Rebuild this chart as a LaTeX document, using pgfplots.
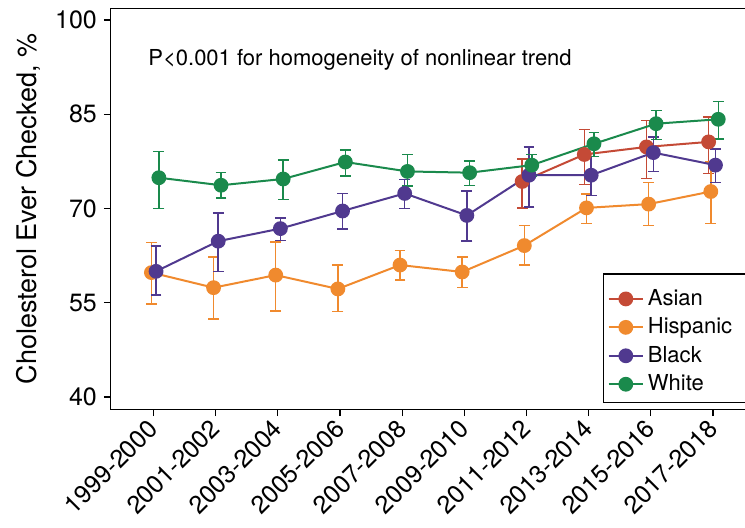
\documentclass[border=0pt]{standalone}
\usepackage{fontspec}
\setmainfont{TeX Gyre Heros}
\usepackage{pgfplots}
\pgfplotsset{compat=1.18}
\usepackage{pgfplotstable}
\definecolor{cAsian}{HTML}{C44A36}
\definecolor{cHisp}{HTML}{F08A2E}
\definecolor{cBlack}{HTML}{50398F}
\definecolor{cWhite}{HTML}{1A8A4C}
\pgfplotstableread{
x y lo hi
5.93 74.3 70.1 77.9
6.93 78.6 73.8 82.6
7.93 79.8 74.8 84.0
8.93 80.6 75.6 84.6
}\tasian
\pgfplotstableread{
x y lo hi
-0.035 59.8 54.8 64.6
0.965 57.4 52.4 62.3
1.965 59.4 53.7 64.7
2.965 57.2 53.6 61.0
3.965 61.0 58.6 63.3
4.965 59.9 57.4 62.3
5.965 64.1 61.0 67.3
6.965 70.1 67.6 72.3
7.965 70.7 67.3 74.1
8.965 72.7 67.6 77.4
}\thisp
\pgfplotstableread{
x y lo hi
0.04 60.0 56.2 64.0
1.04 64.8 60.0 69.3
2.04 66.8 64.9 68.5
3.04 69.6 66.7 72.4
4.04 72.4 70.0 74.6
5.04 68.9 64.8 72.8
6.04 75.3 70.2 79.8
7.04 75.3 72.1 78.3
8.04 78.9 75.9 81.4
9.04 76.9 74.1 79.5
}\tblack
\pgfplotstableread{
x y lo hi
0.085 74.9 70.0 79.1
1.085 73.7 71.7 75.7
2.085 74.7 71.4 77.7
3.085 77.4 75.2 79.3
4.085 75.9 73.6 78.6
5.085 75.7 73.7 77.6
6.085 76.9 75.2 78.6
7.085 80.3 78.3 82.1
8.085 83.5 81.0 85.6
9.085 84.2 81.1 87.0
}\twhite
\begin{document}
\begin{tikzpicture}
\path[use as bounding box] (-55.35pt,-58.85pt) rectangle (317.15pt,204.65pt);
\begin{axis}[
  at={(0,0)}, anchor=south west,
  scale only axis, width=344.65pt, height=200.4pt,
  xmin=-0.69, xmax=10.4, ymin=38.04, ymax=101.83,
  xtick={0,1,2,3,4,5,6,7,8,9},
  xticklabels={1999-2000,2001-2002,2003-2004,2005-2006,2007-2008,2009-2010,2011-2012,2013-2014,2015-2016,2017-2018},
  ytick={40,55,70,85,100},
  xtick pos=left, ytick pos=left,
  tick align=outside, major tick length=3.4pt,
  tick style={line width=0.6pt, black},
  axis line style={line width=0.6pt},
  /pgf/number format/assume math mode=true,
  ticklabel style={font=\fontsize{12.5}{14}\selectfont},
  xticklabel style={rotate=45, anchor=east, inner sep=0pt},
  xticklabel shift=4pt,
  ylabel={Cholesterol Ever Checked, \%},
  ylabel style={at={(axis description cs:-0.1074,0.5)}, anchor=base, rotate=0, inner sep=0pt, font=\fontsize{13.5}{15}\selectfont},
  legend cell align=left,
  legend style={at={(axis cs:7.22,58.62)}, anchor=north west, draw=none, fill=none,
    font=\fontsize{11}{14.15}\selectfont, row sep=0.7pt, inner sep=2.5pt,
    /tikz/every even column/.append style={column sep=0pt}},
  every axis plot/.append style={line width=1pt, mark=*, mark size=3.2pt,
    error bars/y dir=both, error bars/y explicit,
    error bars/error bar style={line width=0.75pt},
    error bars/error mark options={rotate=90, mark size=2.7pt, line width=0.75pt}},
  clip=false,
]
\addplot[color=cAsian, mark options={fill=cAsian, draw=cAsian}] table[x=x, y=y, y error plus expr=\thisrow{hi}-\thisrow{y}, y error minus expr=\thisrow{y}-\thisrow{lo}] {\tasian};
\addlegendentry{Asian}
\addplot[color=cHisp, mark options={fill=cHisp, draw=cHisp}] table[x=x, y=y, y error plus expr=\thisrow{hi}-\thisrow{y}, y error minus expr=\thisrow{y}-\thisrow{lo}] {\thisp};
\addlegendentry{Hispanic}
\addplot[color=cBlack, mark options={fill=cBlack, draw=cBlack}] table[x=x, y=y, y error plus expr=\thisrow{hi}-\thisrow{y}, y error minus expr=\thisrow{y}-\thisrow{lo}] {\tblack};
\addlegendentry{Black}
\addplot[color=cWhite, mark options={fill=cWhite, draw=cWhite}] table[x=x, y=y, y error plus expr=\thisrow{hi}-\thisrow{y}, y error minus expr=\thisrow{y}-\thisrow{lo}] {\twhite};
\addlegendentry{White}
\draw[line width=0.6pt, black] (axis cs:7.235,39.09) rectangle (axis cs:10.3,59.58);
\node[anchor=base west, inner sep=0pt, font=\fontsize{11}{13}\selectfont] at (axis cs:-0.09,92.7) {P<0.001 for homogeneity of nonlinear trend};
\end{axis}
\end{tikzpicture}
\end{document}
